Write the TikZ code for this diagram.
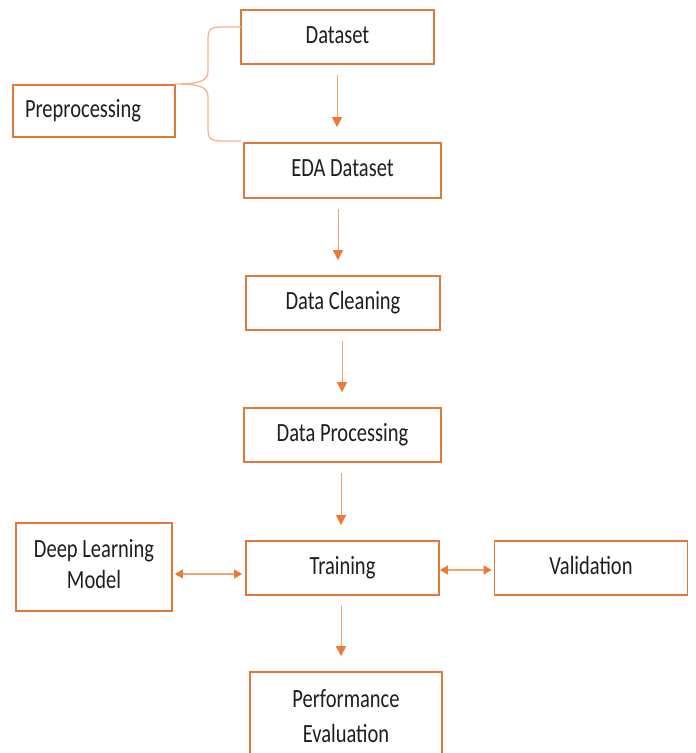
\documentclass[tikz,border=0pt]{standalone}
\usepackage{fontspec}
\usepackage{graphicx}
\setmainfont{Carlito}
\usetikzlibrary{arrows.meta,calc}
\definecolor{boxor}{HTML}{E07A3C}
\definecolor{braceor}{HTML}{F5B58C}
\definecolor{shaftor}{HTML}{F2A56F}
\definecolor{heador}{HTML}{EC7A32}
\definecolor{txt}{HTML}{1E1E1E}
\newcommand{\tallt}[1]{\scalebox{1}[1.28]{\begin{tabular}{@{}c@{}}#1\end{tabular}}}
\tikzset{
  box/.style={draw=boxor, line width=1.8pt, fill=white, inner sep=0pt, text=txt,
    font=\fontsize{20.5}{24.5}\selectfont, align=center},
  arr/.style={draw=shaftor, line width=1pt, -{Triangle[length=10pt,width=10pt,color=heador]},
    shorten <=10pt, shorten >=15pt},
  darr/.style={draw=shaftor, line width=1.4pt,
    {Triangle[length=8pt,width=9pt,color=heador]}-{Triangle[length=8pt,width=9pt,color=heador]}},
  bracestyle/.style={draw=braceor, line width=1.3pt}
}
\begin{document}
\begin{tikzpicture}[x=1pt,y=1pt]
\useasboundingbox[fill=white] (0,0) rectangle (696,753);
\clip (0,0) rectangle (696,753);
\node[box, minimum width=193pt, minimum height=54pt] (dataset) at (337.5,716) {\tallt{Dataset}};
\node[box, minimum width=162pt, minimum height=52pt, text width=138pt, align=left, inner xsep=12pt] (pre) at (94,642) {\tallt{Preprocessing}};
\node[box, minimum width=197pt, minimum height=55pt] (eda) at (342.5,582.5) {\tallt{EDA Dataset}};
\node[box, minimum width=194pt, minimum height=54pt] (clean) at (343,450) {\tallt{Data Cleaning}};
\node[box, minimum width=197pt, minimum height=54pt] (proc) at (342.5,318) {\tallt{Data Processing}};
\node[box, minimum width=156pt, minimum height=88pt] (dl) at (94,186) {\tallt{Deep Learning\\Model}};
\node[box, minimum width=193pt, minimum height=54pt] (train) at (342.5,185) {\tallt{Training}};
\node[box, minimum width=193pt, minimum height=54pt] (val) at (591,185) {\tallt{Validation}};
\node[box, minimum width=192pt, minimum height=92pt, font=\fontsize{20.5}{27}\selectfont] (perf) at (346,35) {\tallt{Performance\\Evaluation}};

% brace
\coordinate (btop) at (241,726);
\coordinate (bbot) at (241,612);
\coordinate (btip) at (175,669);
\draw[bracestyle] (btop) -- (221,726) .. controls (209,726) and (208,722) .. (208,712)
  -- (208,682) .. controls (208,672) and (200,669) .. (btip)
  .. controls (200,669) and (208,666) .. (208,656)
  -- (208,626) .. controls (208,616) and (209,612) .. (221,612) -- (bbot);

% vertical arrows
\draw[arr] ([xshift=-0.5pt]dataset.south) -- ([xshift=-0.5pt]dataset.south |- eda.north);
\draw[arr] ([xshift=-4.5pt]eda.south) -- ([xshift=-4.5pt]eda.south |- clean.north);
\draw[arr] ([xshift=-1pt]clean.south) -- ([xshift=-1pt]clean.south |- proc.north);
\draw[arr] ([xshift=-1.5pt]proc.south) -- ([xshift=-1.5pt]proc.south |- train.north);
\draw[arr] ([xshift=-1.5pt]train.south) -- ([xshift=-1.5pt]train.south |- perf.north);

% horizontal double arrows
\draw[darr, shorten <=2pt, shorten >=3pt] ([yshift=-7pt]dl.east) -- ([yshift=-7pt]dl.east -| train.west);
\draw[darr, shorten <=0pt, shorten >=2pt] ([yshift=-2pt]train.east) -- ([yshift=-2pt]train.east -| val.west);
\end{tikzpicture}
\end{document}
